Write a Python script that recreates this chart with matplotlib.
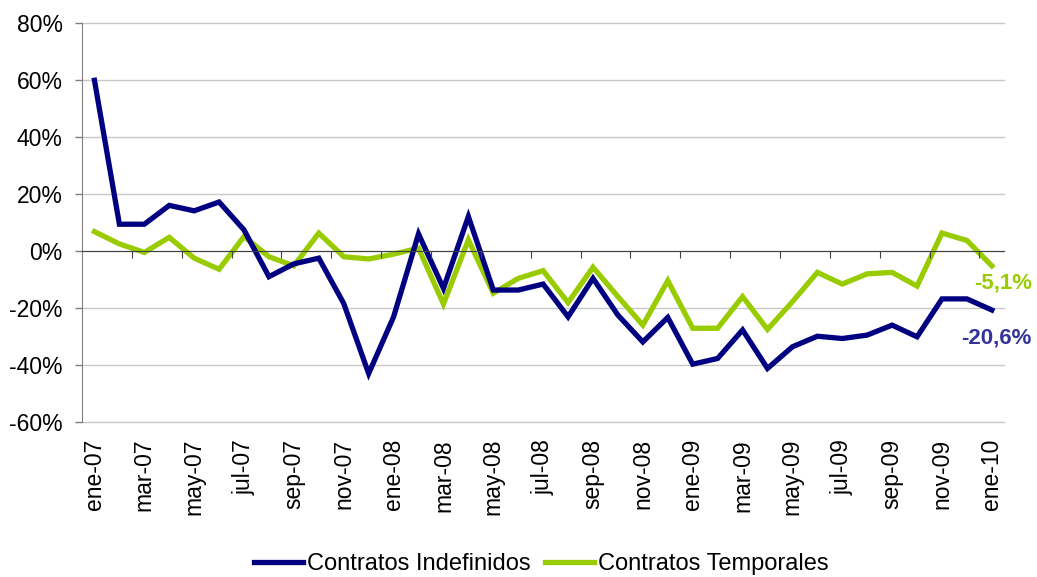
import matplotlib
matplotlib.use('Agg')
from matplotlib import pyplot as plt
from matplotlib.ticker import FuncFormatter
import numpy as np

# monthly series, ene-07 .. ene-10
meses = ['ene', 'feb', 'mar', 'abr', 'may', 'jun', 'jul', 'ago', 'sep', 'oct', 'nov', 'dic']
fechas = ['{}-{:02d}'.format(meses[i % 12], 7 + i // 12) for i in range(37)]

indefinidos = [60.0, 9.5, 9.5, 16.1, 14.2, 17.3, 7.5, -8.9, -4.4, -2.4, -18.3, -42.9,
               -23.0, 6.1, -13.0, 12.2, -13.6, -13.6, -11.5, -23.0, -9.5, -22.4, -31.8, -23.2,
               -39.6, -37.6, -27.6, -41.1, -33.5, -29.8, -30.6, -29.4, -25.9, -30.0, -16.7, -16.7,
               -20.6]
temporales = [6.9, 2.6, -0.4, 4.9, -2.4, -6.3, 5.2, -1.9, -5.1, 6.4, -1.9, -2.7,
              -1.0, 1.1, -18.5, 4.0, -14.7, -9.5, -6.8, -18.0, -5.6, -15.9, -25.9, -10.3,
              -27.0, -27.0, -15.9, -27.4, -17.7, -7.4, -11.5, -7.9, -7.4, -12.2, 6.4, 3.8,
              -5.1]

azul = '#000080'
verde = '#99cc00'

plt.rcParams['font.family'] = ['Liberation Sans', 'DejaVu Sans']

fig = plt.figure(figsize=(10.37, 5.77), dpi=100)
ax = fig.add_axes([82 / 1037, 1 - 422.3 / 577, (1004.3 - 82) / 1037, (422.3 - 23.3) / 577])

xs = np.arange(len(fechas))
ax.plot(xs, indefinidos, color=azul, lw=3.8, label='Contratos Indefinidos',
        solid_joinstyle='miter', zorder=4)
ax.plot(xs, temporales, color=verde, lw=3.8, label='Contratos Temporales',
        solid_joinstyle='miter', zorder=3)

ax.set_xlim(-0.5, len(fechas) - 0.5)
ax.set_ylim(-60, 80)
ax.set_yticks(np.arange(-60, 81, 20))
ax.yaxis.set_major_formatter(FuncFormatter(lambda v, p: '{:.0f}%'.format(v)))
ax.grid(axis='y', color='#c8c8c8', lw=1)
for gl in ax.get_ygridlines():
    gl.set_clip_on(False)
ax.set_axisbelow(True)

ax.set_xticks(xs[::2])
ax.set_xticklabels(fechas[::2], rotation=90)
ax.tick_params(axis='x', length=0, pad=12, labelsize=16.5)
ax.tick_params(axis='y', length=5, width=1, color='#808080', pad=9, labelsize=16.5)

for s in ['top', 'right', 'bottom']:
    ax.spines[s].set_visible(False)
ax.spines['left'].set_color('#808080')

# category axis drawn through zero
ax2 = ax.twiny()
ax2.set_xlim(ax.get_xlim())
for s in ['top', 'right', 'left']:
    ax2.spines[s].set_visible(False)
ax2.spines['bottom'].set_position(('data', 0))
ax2.spines['bottom'].set_color('#404040')
ax2.spines['bottom'].set_zorder(2)
ax2.xaxis.set_ticks_position('bottom')
ax2.set_xticks(np.arange(1.5, len(fechas) - 1, 2))
ax2.set_xticklabels([])
ax2.tick_params(axis='x', length=5, direction='out', color='#404040')

fmt = lambda v: '{:.1f}%'.format(v).replace('.', ',')
ax.annotate(fmt(temporales[-1]), xy=(xs[-1], temporales[-1]), xytext=(8, -12),
            textcoords='offset points', ha='center', va='center',
            fontsize=16, fontweight='bold', color=verde, annotation_clip=False)
ax.annotate(fmt(indefinidos[-1]), xy=(xs[-1], indefinidos[-1]), xytext=(3.5, -20),
            textcoords='offset points', ha='center', va='center',
            fontsize=16, fontweight='bold', color='#333399', annotation_clip=False)

fig.legend(loc='center', bbox_to_anchor=(541 / 1037, 1 - 564 / 577), ncol=2,
           frameon=False, fontsize=17, handlelength=2.1, handletextpad=0.15,
           columnspacing=0.6)

fig.savefig('out.png', dpi=100)
